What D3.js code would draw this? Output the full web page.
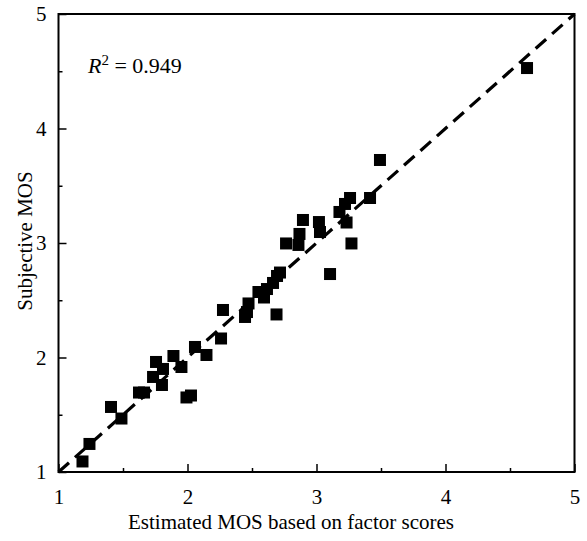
<!DOCTYPE html>
<html>
<head>
<meta charset="utf-8">
<script src="https://cdn.jsdelivr.net/npm/d3@7"></script>
<style>
  body { margin: 0; background: #fff; }
  svg text { font-family: 'Liberation Serif', 'Times New Roman', serif; fill: #000; }
</style>
</head>
<body>
<svg id="chart" width="587" height="541"></svg>
<script>
// estimated MOS (x) vs subjective MOS (y)
const estimated = [1.186, 1.240, 1.407, 1.488, 1.624, 1.663, 1.733, 1.756, 1.802, 1.810,
  1.891, 1.953, 1.992, 2.027, 2.058, 2.147, 2.260, 2.275, 2.446, 2.461,
  2.473, 2.550, 2.593, 2.616, 2.690, 2.663, 2.694, 2.717, 2.764, 2.860,
  2.868, 2.895, 3.019, 3.027, 3.105, 3.178, 3.221, 3.233, 3.260, 3.271,
  3.415, 3.492, 4.632]
const subjective = [1.092, 1.245, 1.568, 1.467, 1.694, 1.694, 1.830, 1.961, 1.760, 1.900,
  2.013, 1.917, 1.651, 1.668, 2.092, 2.022, 2.166, 2.415, 2.354, 2.397,
  2.472, 2.572, 2.524, 2.598, 2.376, 2.651, 2.712, 2.742, 2.996, 2.983,
  3.079, 3.201, 3.183, 3.096, 2.729, 3.271, 3.341, 3.179, 3.393, 2.996,
  3.393, 3.725, 4.528]
const majorTicks = [1, 2, 3, 4, 5]
const minorTicks = [1.5, 2.5, 3.5, 4.5]
const rSquared = '0.949'

const serif = "'Liberation Serif', 'Times New Roman', serif"

const svg = d3.select('#chart')
const margin = { top: 14, right: 12.5, bottom: 69, left: 58.5 }
const width = 587 - margin.left - margin.right,
  height = 541 - margin.top - margin.bottom

const x = d3.scaleLinear().domain([1, 5]).range([0, width])
const y = d3.scaleLinear().domain([1, 5]).range([height, 0])

const g = svg.append('g')
    .attr('transform', `translate(${ margin.left },${ margin.top })`)

// ticks point inward
g.append('g')
    .attr('transform', `translate(0,${ height })`)
    .call(d3.axisBottom(x).tickValues(minorTicks).tickSize(-4).tickFormat(''))
    .call(a => a.select('.domain').remove())
g.append('g')
    .call(d3.axisLeft(y).tickValues(minorTicks).tickSize(-4).tickFormat(''))
    .call(a => a.select('.domain').remove())

const xAxis = g.append('g')
    .attr('transform', `translate(0,${ height })`)
    .call(d3.axisBottom(x).tickValues(majorTicks).tickSize(-8).tickPadding(17).tickFormat(d3.format('d')))
const yAxis = g.append('g')
    .call(d3.axisLeft(y).tickValues(majorTicks).tickSize(-8).tickPadding(12).tickFormat(d3.format('d')))

for (const a of [xAxis, yAxis]) {
  a.attr('font-family', serif)
  a.selectAll('text').style('font-size', '21px').style('font-family', serif)
  a.select('.domain').remove()
}
g.selectAll('.tick line').attr('stroke', '#000').attr('stroke-width', 1.5)

g.append('rect')
    .attr('width', width)
    .attr('height', height)
    .attr('fill', 'none')
    .attr('stroke', '#000')
    .attr('stroke-width', 2)

// 1:1 line
g.append('line')
    .attr('x1', x(1)).attr('y1', y(1))
    .attr('x2', x(5)).attr('y2', y(5))
    .attr('stroke', '#000')
    .attr('stroke-width', 3.2)
    .attr('stroke-dasharray', '14,8')

const sq = 12
g.selectAll('rect.pt')
  .data(estimated.map((d, i) => [d, subjective[i]]))
  .enter().append('rect')
    .attr('class', 'pt')
    .attr('x', d => x(d[0]) - sq / 2)
    .attr('y', d => y(d[1]) - sq / 2)
    .attr('width', sq)
    .attr('height', sq)
    .attr('fill', '#000')

const r2 = svg.append('text')
    .attr('x', 88)
    .attr('y', 73)
    .style('font-family', serif)
    .style('font-size', '22px')
r2.append('tspan').style('font-style', 'italic').text('R')
r2.append('tspan').attr('dy', -8).style('font-size', '15px').text('2')
r2.append('tspan').attr('dy', 8).text(' = ' + rSquared)

svg.append('text')
    .attr('x', 291)
    .attr('y', 529)
    .attr('text-anchor', 'middle')
    .style('font-family', serif)
    .style('font-size', '21px')
    .text('Estimated MOS based on factor scores')

svg.append('text')
    .attr('transform', `translate(32,241) rotate(-90)`)
    .attr('text-anchor', 'middle')
    .style('font-family', serif)
    .style('font-size', '21px')
    .text('Subjective MOS')
</script>
</body>
</html>
